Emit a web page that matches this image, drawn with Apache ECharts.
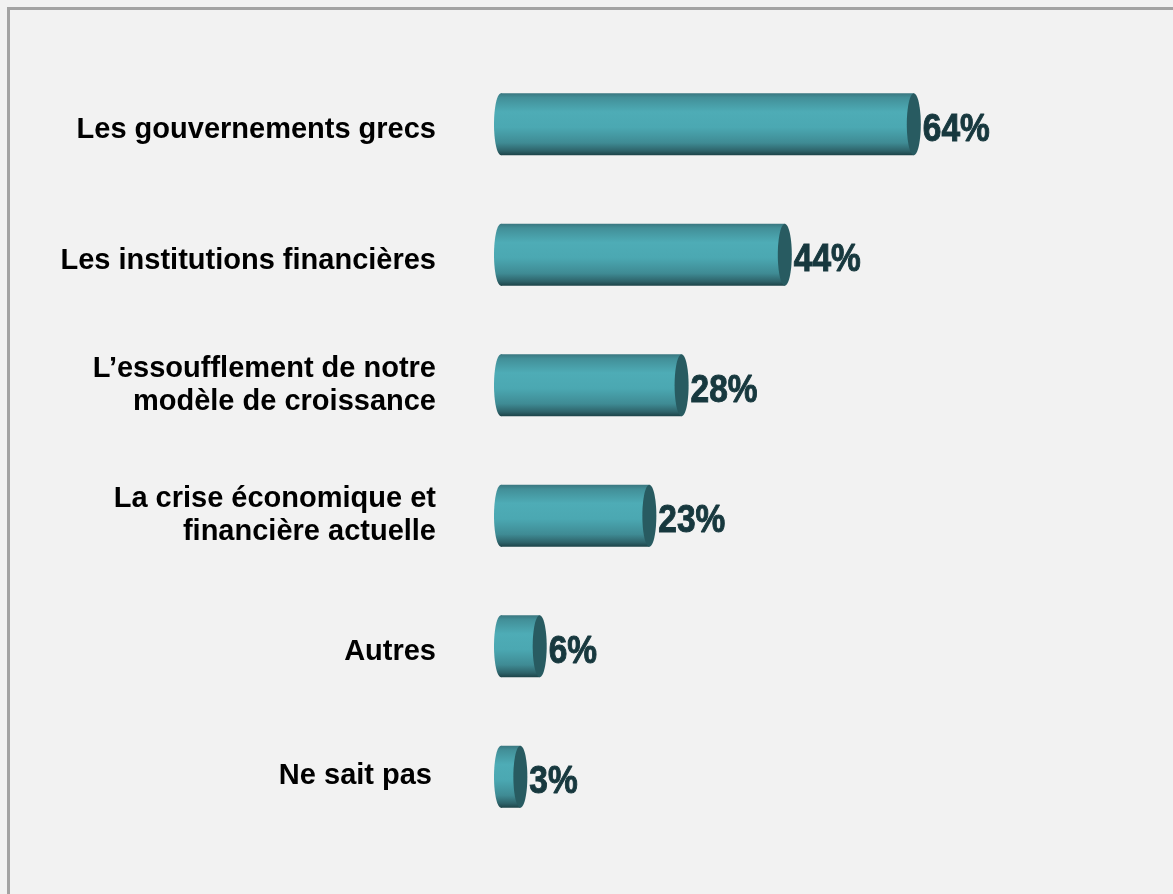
<!DOCTYPE html>
<html>
<head>
<meta charset="utf-8">
<script src="https://cdn.jsdelivr.net/npm/echarts@6/dist/echarts.min.js"></script>
<style>
html,body{margin:0;padding:0;background:#f2f2f2;}
#chart{width:1173px;height:894px;}
</style>
</head>
<body>
<div id="chart"></div>
<script>
const categories = [
  'Les gouvernements grecs',
  'Les institutions financières',
  'L\u2019essoufflement de notre\nmodèle de croissance',
  'La crise économique et\nfinancière actuelle',
  'Autres',
  'Ne sait pas'
];
const values = [64, 44, 28, 23, 6, 3];

const chart = echarts.init(document.getElementById('chart'));
const bodyGrad = new echarts.graphic.LinearGradient(0, 0, 0, 1, [
  {offset: 0, color: '#3a7780'},
  {offset: 0.07, color: '#428f98'},
  {offset: 0.3, color: '#4eacb6'},
  {offset: 0.55, color: '#4ba8b2'},
  {offset: 0.8, color: '#3f8b94'},
  {offset: 0.93, color: '#2e636a'},
  {offset: 1, color: '#1d4348'}
]);

function renderItem(params, api) {
  const v = api.value(0);
  const cat = api.value(1);
  const p0 = api.coord([0, cat]);
  const p1 = api.coord([v, cat]);
  const band = api.size([0, 1])[1];
  const ry = band * 0.475 / 2;
  const rx = 7;
  const cy = p0[1];
  return {
    type: 'group',
    children: [
      {type: 'ellipse', shape: {cx: p0[0], cy: cy, rx: rx, ry: ry}, style: {fill: bodyGrad}},
      {type: 'rect', shape: {x: p0[0], y: cy - ry, width: p1[0] - p0[0], height: ry * 2}, style: {fill: bodyGrad}},
      {type: 'ellipse', shape: {cx: p1[0], cy: cy, rx: rx, ry: ry}, style: {fill: '#285b61'}},
      {type: 'text', x: p1[0] + rx + 2, y: cy + 6, scaleX: 0.88,
        style: {text: v + '%', x: 0, y: 0, fill: '#17383e', font: 'bold 38px "Liberation Sans", Arial, sans-serif',
          align: 'left', verticalAlign: 'middle', stroke: '#17383e', lineWidth: 1}}
    ]
  };
}

chart.setOption({
  backgroundColor: '#f2f2f2',
  animation: false,
  graphic: [{type: 'rect', shape: {x: 8.5, y: 8.5, width: 1300, height: 1000}, style: {fill: 'none', stroke: '#a3a3a3', lineWidth: 3}}],
  grid: {left: 501, right: 27, top: 59, bottom: 52, containLabel: false},
  xAxis: {type: 'value', min: 0, max: 100, show: false},
  yAxis: {
    type: 'category', data: categories, inverse: true,
    axisLine: {show: false}, axisTick: {show: false}, splitLine: {show: false},
    axisLabel: {
      margin: 65, color: '#000', fontSize: 29, fontWeight: 'bold', fontFamily: '"Liberation Sans", Arial, sans-serif', lineHeight: 33, align: 'right',
      formatter: function (val) {
        if (val.indexOf('\n') >= 0) return val;
        if (val === 'Ne sait pas') return '{n|' + val + '}';
        return '{s|' + val + '}';
      },
      rich: {
        s: {fontSize: 29, fontWeight: 'bold', fontFamily: '"Liberation Sans", Arial, sans-serif', color: '#000', padding: [12, 0, 0, 0]},
        n: {fontSize: 29, fontWeight: 'bold', fontFamily: '"Liberation Sans", Arial, sans-serif', color: '#000', padding: [0, 4, 2, 0]}
      }
    }
  },
  series: [{
    type: 'custom',
    renderItem: renderItem,
    encode: {x: 0, y: 1},
    data: values.map((v, i) => [v, i])
  }]
});
</script>
</body>
</html>
